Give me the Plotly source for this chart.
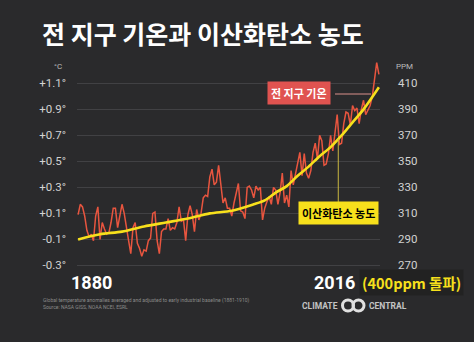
import numpy as np
import plotly.graph_objects as go

# ---------------- data ----------------
years = list(range(1880, 2018))
temp_anom = [
    0.09, 0.17, 0.15, 0.08, -0.03, -0.08, -0.06, -0.11, 0.08, 0.15,
    -0.10, 0.03, -0.02, -0.06, -0.05, 0.03, 0.14, 0.14, -0.01, 0.08,
    0.17, 0.10, -0.02, -0.11, -0.21, -0.01, 0.03, -0.13, -0.17, -0.23,
    -0.18, -0.19, -0.11, -0.09, 0.10, 0.11, -0.11, -0.21, -0.04, -0.02,
    -0.02, 0.06, -0.03, -0.01, -0.02, 0.03, 0.15, 0.04, 0.05, -0.11,
    0.09, 0.16, 0.09, -0.04, 0.13, 0.05, 0.10, 0.22, 0.24, 0.23,
    0.38, 0.44, 0.32, 0.34, 0.47, 0.34, 0.18, 0.22, 0.14, 0.14,
    0.08, 0.18, 0.26, 0.33, 0.12, 0.11, 0.06, 0.30, 0.31, 0.28,
    0.22, 0.31, 0.28, 0.30, 0.05, 0.14, 0.19, 0.23, 0.17, 0.30,
    0.28, 0.17, 0.26, 0.41, 0.18, 0.24, 0.15, 0.43, 0.32, 0.41,
    0.51, 0.57, 0.39, 0.56, 0.41, 0.37, 0.43, 0.57, 0.64, 0.52,
    0.70, 0.66, 0.47, 0.48, 0.56, 0.70, 0.58, 0.71, 0.86, 0.63,
    0.64, 0.79, 0.88, 0.87, 0.78, 0.93, 0.89, 0.91, 0.79, 0.90,
    0.97, 0.86, 0.89, 0.93, 1.00, 1.15, 1.26, 1.17,
]
co2_years = [1880, 1890, 1900, 1910, 1920, 1930, 1940, 1950, 1960, 1965,
             1970, 1975, 1980, 1985, 1990, 1995, 2000, 2005, 2010, 2017]
co2_ppm = [290, 294, 296, 300, 303, 306, 310, 312, 317, 320,
           326, 331, 339, 346, 354, 361, 370, 380, 390, 407]

temp_ticks = [-0.3, -0.1, 0.1, 0.3, 0.5, 0.7, 0.9, 1.1]
temp_tick_labels = ["-0.3°", "-0.1°", "+0.1°", "+0.3°", "+0.5°", "+0.7°", "+0.9°", "+1.1°"]
ppm_ticks = [270, 290, 310, 330, 350, 370, 390, 410]

title_text = "전 지구 기온과 이산화탄소 농도"
temp_label = "전 지구 기온"
co2_label = "이산화탄소 농도"
footnote1 = "Global temperature anomalies averaged and adjusted to early industrial baseline (1881-1910)"
footnote2 = "Source: NASA GISS, NOAA NCEI, ESRL"

# ---------------- layout helpers ----------------
W, H = 474, 342
L, R, T, B = 77, 380, 60, 268
def px(x):
    return (x - L) / (R - L)
def py(y):
    return (B - y) / (B - T)

BG = "#2a2a2c"
RED = "#e8553f"
YEL = "#f7e01c"
KR = "Noto Sans CJK KR"
COND = "Liberation Sans Narrow, Roboto, sans-serif"

fig = go.Figure()
fig.add_trace(go.Scatter(x=years, y=temp_anom, mode="lines",
                         line=dict(color=RED, width=1.5), yaxis="y",
                         hoverinfo="skip", showlegend=False))
fig.add_trace(go.Scatter(x=co2_years, y=co2_ppm, mode="lines",
                         line=dict(color=YEL, width=2.6, shape="spline", smoothing=0.8),
                         yaxis="y2", hoverinfo="skip", showlegend=False))

fig.update_layout(
    width=W, height=H,
    margin=dict(l=L, r=W - R, t=T, b=H - B),
    paper_bgcolor=BG, plot_bgcolor=BG,
    xaxis=dict(range=[1879.5, 2017.5], showgrid=False, zeroline=False,
               showticklabels=False, ticks=""),
    yaxis=dict(range=[-0.32, 1.28], tickvals=temp_ticks, ticktext=temp_tick_labels,
               showgrid=True, gridcolor="#414144", gridwidth=1, zeroline=False,
               ticks="", ticklabelstandoff=10,
               tickfont=dict(family=COND, size=11.5, color="#d2d2d2")),
    yaxis2=dict(range=[268, 428], tickvals=ppm_ticks, overlaying="y", side="right",
                showgrid=False, zeroline=False, ticks="", ticklabelstandoff=17,
                tickfont=dict(family=COND, size=11.5, color="#d2d2d2")),
)

ann = []
ann.append(dict(text="<b>" + title_text + "</b>", x=px(40), y=py(33), xref="paper", yref="paper",
                xanchor="left", yanchor="middle", showarrow=False,
                font=dict(family=KR, size=25, color="white")))
ann.append(dict(text="°C", x=px(58), y=py(66), xref="paper", yref="paper",
                xanchor="center", yanchor="middle", showarrow=False,
                font=dict(family=COND, size=8, color="#bbbbbb")))
ann.append(dict(text="PPM", x=px(404), y=py(66), xref="paper", yref="paper",
                xanchor="center", yanchor="middle", showarrow=False,
                font=dict(family=COND, size=8, color="#bbbbbb")))
# series labels
ann.append(dict(text="<b>" + temp_label + "</b>", x=px(299), y=py(93), xref="paper", yref="paper",
                xanchor="center", yanchor="middle", showarrow=False,
                bgcolor="#e05350", borderpad=3,
                font=dict(family=KR, size=11, color="white")))
ann.append(dict(text="<b>" + co2_label + "</b>", x=px(338), y=py(213), xref="paper", yref="paper",
                xanchor="center", yanchor="middle", showarrow=False,
                bgcolor=YEL, borderpad=3,
                font=dict(family=KR, size=11, color="black")))
# bottom labels
ann.append(dict(text="<b>1880</b>", x=px(91), y=py(282), xref="paper", yref="paper",
                xanchor="center", yanchor="middle", showarrow=False,
                font=dict(family=COND, size=18, color="white")))
ann.append(dict(text="<b>2016</b>", x=px(357), y=py(282), xref="paper", yref="paper",
                xanchor="right", yanchor="middle", showarrow=False,
                font=dict(family=COND, size=18, color="white")))
ann.append(dict(text="<b>(400ppm 돌파)</b>", x=px(359), y=py(282), xref="paper", yref="paper",
                xanchor="left", yanchor="middle", showarrow=False,
                bgcolor="#222222", borderpad=2,
                font=dict(family=KR, size=14.5, color=YEL)))
ann.append(dict(text=footnote1, x=px(41), y=py(300), xref="paper", yref="paper",
                xanchor="left", yanchor="middle", showarrow=False,
                font=dict(family="Roboto", size=5, color="#8a8a8a")))
ann.append(dict(text=footnote2, x=px(41), y=py(307), xref="paper", yref="paper",
                xanchor="left", yanchor="middle", showarrow=False,
                font=dict(family="Roboto", size=5, color="#8a8a8a")))
ann.append(dict(text="<b>CLIMATE</b>", x=px(340), y=py(306), xref="paper", yref="paper",
                xanchor="right", yanchor="middle", showarrow=False,
                font=dict(family="Roboto", size=8.5, color="#c4c4c4")))
ann.append(dict(text="<b>CENTRAL</b>", x=px(367), y=py(306), xref="paper", yref="paper",
                xanchor="left", yanchor="middle", showarrow=False,
                font=dict(family="Roboto", size=8.5, color="#c4c4c4")))
fig.update_layout(annotations=ann)

# leader lines
lead_year = 1998.5
lead_ppm = float(np.interp(lead_year, co2_years, co2_ppm))
shapes = [
    dict(type="line", xref="paper", yref="paper", x0=px(335), x1=px(371), y0=py(94), y1=py(94),
         line=dict(color="#d98f8a", width=1)),
    dict(type="line", xref="x", yref="y2", x0=lead_year, x1=lead_year, y0=lead_ppm,
         y1=270 + (py(203) * 1.6 - 0.32 + 0.3) * 100,
         line=dict(color="#c9b640", width=1)),
    dict(type="circle", xref="paper", yref="paper", x0=px(342.5), x1=px(353.5), y0=py(300), y1=py(311),
         line=dict(color="#e0e0e0", width=3)),
    dict(type="circle", xref="paper", yref="paper", x0=px(353), x1=px(364), y0=py(300), y1=py(311),
         line=dict(color="#e0e0e0", width=3)),
]
fig.update_layout(shapes=shapes)

fig.write_html("out.html")
